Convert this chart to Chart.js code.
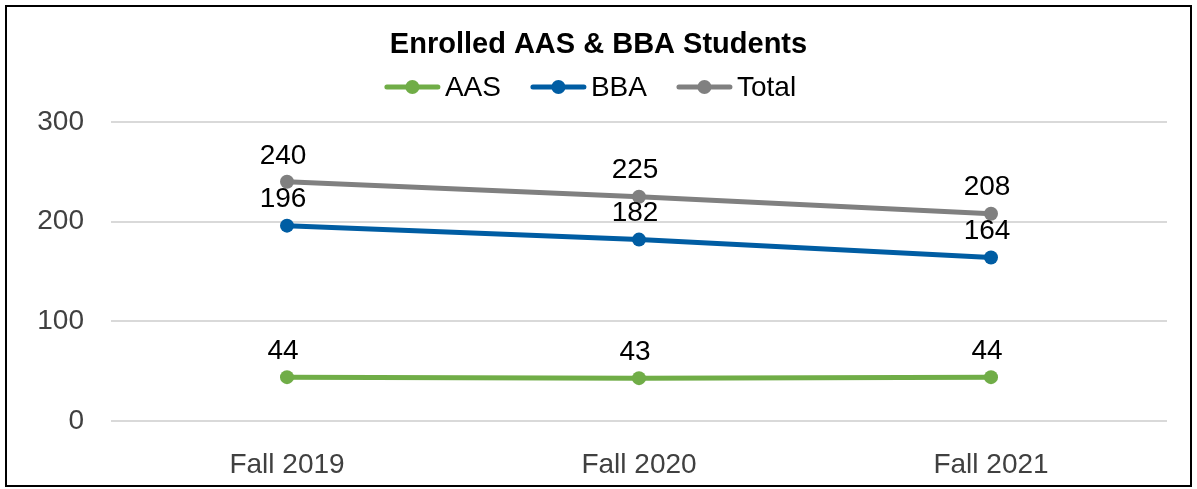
<!DOCTYPE html>
<html>
<head>
<meta charset="utf-8">
<script src="https://cdn.jsdelivr.net/npm/chart.js@4"></script>
<style>
  html, body { margin: 0; padding: 0; background: #fff; }
  #wrap { position: relative; width: 1197px; height: 489px; }
  #frame {
    position: absolute; left: 5px; top: 5px; width: 1183px; height: 478px;
    border: 2px solid #000; box-sizing: content-box;
  }
  canvas { position: absolute; left: 0; top: 0; }
</style>
</head>
<body>
<div id="wrap">
  <div id="frame"></div>
  <canvas id="chart" width="1197" height="489"></canvas>
</div>
<script>
const categories = ["Fall 2019", "Fall 2020", "Fall 2021"];
const aasValues = [44, 43, 44];
const bbaValues = [196, 182, 164];
const totalValues = [240, 225, 208];
const yTicks = [0, 100, 200, 300];

const seriesColors = {
  AAS: "#70AD47",
  BBA: "#005DA3",
  Total: "#808080",
};

const fontFamily = "'Liberation Sans', Arial, sans-serif";
const fontSize = 28;

const makeDataset = (label, data) => ({
  label,
  data,
  borderColor: seriesColors[label],
  backgroundColor: seriesColors[label],
  borderWidth: 5,
  pointRadius: 7,
  pointHoverRadius: 7,
  pointBackgroundColor: seriesColors[label],
  pointBorderWidth: 0,
  tension: 0,
});

// value above every point
const valueLabels = {
  id: "valueLabels",
  afterDatasetsDraw(chart) {
    const { ctx } = chart;
    ctx.save();
    ctx.font = `${fontSize}px ${fontFamily}`;
    ctx.fillStyle = "#000";
    ctx.textAlign = "center";
    ctx.textBaseline = "middle";
    chart.data.datasets.forEach((ds, i) => {
      const meta = chart.getDatasetMeta(i);
      meta.data.forEach((pt, j) => {
        ctx.fillText(String(ds.data[j]), pt.x - 4, pt.y - 26);
      });
    });
    ctx.restore();
  },
};

// legend drawn as line + dot markers, like the office chart
const lineLegend = {
  id: "lineLegend",
  afterDraw(chart) {
    const { ctx } = chart;
    const markerLen = 55;
    const textGap = 5;
    const itemGap = 30;
    const y = 87;
    ctx.save();
    ctx.font = `${fontSize}px ${fontFamily}`;
    const items = chart.data.datasets.map((ds) => ({
      label: ds.label,
      color: ds.borderColor,
      width: ctx.measureText(ds.label).width,
    }));
    const total =
      items.reduce((sum, it) => sum + markerLen + textGap + it.width, 0) +
      itemGap * (items.length - 1);
    let x = chart.width / 2 - 8 - total / 2;
    items.forEach((it) => {
      ctx.strokeStyle = it.color;
      ctx.lineWidth = 5;
      ctx.lineCap = "round";
      ctx.beginPath();
      ctx.moveTo(x + 2, y);
      ctx.lineTo(x + markerLen - 2, y);
      ctx.stroke();
      ctx.fillStyle = it.color;
      ctx.beginPath();
      ctx.arc(x + markerLen / 2, y, 7, 0, Math.PI * 2);
      ctx.fill();
      ctx.fillStyle = "#000";
      ctx.textAlign = "left";
      ctx.textBaseline = "middle";
      ctx.fillText(it.label, x + markerLen + textGap, y + 1);
      x += markerLen + textGap + it.width + itemGap;
    });
    ctx.restore();
  },
};

new Chart(document.getElementById("chart"), {
  type: "line",
  data: {
    labels: categories,
    datasets: [
      makeDataset("AAS", aasValues),
      makeDataset("BBA", bbaValues),
      makeDataset("Total", totalValues),
    ],
  },
  options: {
    responsive: false,
    animation: false,
    layout: {
      padding: { top: 28, left: 30, right: 30, bottom: 8 },
    },
    plugins: {
      title: {
        display: true,
        text: "Enrolled AAS & BBA Students",
        color: "#000",
        font: { family: fontFamily, size: 29, weight: "bold" },
        padding: { top: 0, bottom: 59.2 },
      },
      legend: { display: false },
      tooltip: { enabled: false },
    },
    scales: {
      x: {
        offset: true,
        grid: { display: false },
        border: { display: false },
        ticks: {
          color: "#404040",
          font: { family: fontFamily, size: fontSize },
          padding: 19,
        },
        afterFit: (scale) => {
          scale.height = 60;
        },
      },
      y: {
        min: 0,
        max: 300,
        afterBuildTicks: (scale) => {
          scale.ticks = yTicks.map((v) => ({ value: v }));
        },
        grid: { color: "#D9D9D9", lineWidth: 2, drawTicks: false },
        border: { display: false },
        ticks: {
          color: "#404040",
          font: { family: fontFamily, size: fontSize },
          padding: 27,
        },
        afterFit: (scale) => {
          scale.width = 81;
        },
      },
    },
  },
  plugins: [valueLabels, lineLegend],
});
</script>
</body>
</html>
